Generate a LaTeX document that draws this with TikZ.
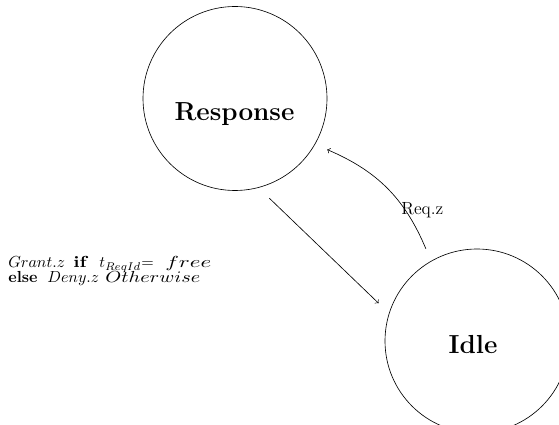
\documentclass[tikz,border=0pt]{standalone}
\usepackage{graphicx}
\usetikzlibrary{arrows}
% a word in a box of fixed width, so that the next word starts at a set place
\newcommand\wordbox[2]{\makebox[#1][l]{#2}}
% a word widened to a set width, keeping its height
\newcommand\widen[2]{\resizebox{#1}{\height}{#2}}
\begin{document}
\begin{tikzpicture}[x=0.625pt,y=-0.625pt,
  state/.style={circle,draw,line width=0.4pt,minimum size=115pt,inner sep=0pt,outer sep=8.4pt},
  statename/.style={font=\fontsize{16.3}{19}\selectfont\bfseries,inner sep=0pt},
  trans/.style={->,line width=0.4pt},
  guard/.style={font=\fontsize{10}{12}\selectfont,inner sep=0pt,anchor=base west}]
  \useasboundingbox (0,0) rectangle (559,425);

  % the two states
  \node[state] (resp) at (235,98.5) {};
  \node[state] (idle) at (477,341) {};
  \node[statename] (resptext) at (234.5,113.7) {Response};
  \node[statename] (idletext) at (473,345) {Idle};

  % transitions
  \draw[trans] (idle.119) to[bend right=22] (resp.-29);
  \draw[trans] (resp.-71.7) -- (idle.159);

  % transition labels
  \node[font=\fontsize{11}{13}\selectfont,inner sep=0pt,anchor=base west] (req) at (401,215) {Req.z};
  \node[guard] (grant) at (8,268)
    {\wordbox{40.6pt}{$Grant.z$}\wordbox{16.25pt}{\widen{9.4pt}{\textbf{if}}}%
     \wordbox{26.25pt}{$t_{ReqId}$}\wordbox{15pt}{$=$}\widen{28.75pt}{$free$}};
  \node[guard] (deny) at (8,282.7)
    {\wordbox{24.4pt}{\textbf{else}}\wordbox{36.25pt}{$Deny.z$}\widen{59.4pt}{$Otherwise$}};
\end{tikzpicture}
\end{document}
